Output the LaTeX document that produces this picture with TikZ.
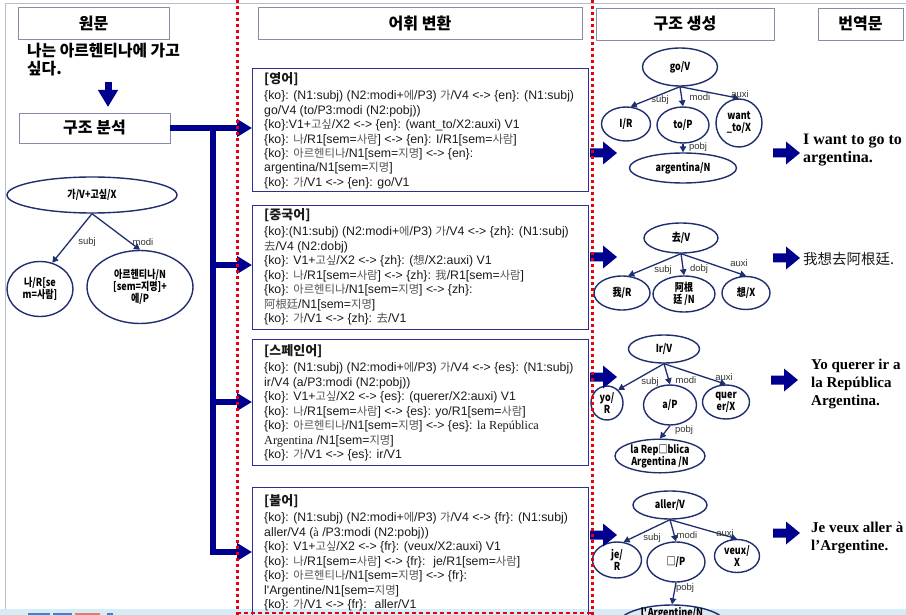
\documentclass[tikz,border=0pt]{standalone}
\usepackage{fontspec}
\usetikzlibrary{arrows.meta,shapes.geometric}
\setmainfont{Liberation Sans}
\newfontfamily\krfont[Scale=0.92]{Noto Sans CJK KR}
\newfontfamily\krhead{Noto Sans CJK KR}
\newfontfamily\treefont[FakeStretch=0.82]{Noto Sans CJK KR}
\newfontfamily\scfont{Noto Sans CJK SC}
\newfontfamily\tmsfont{Liberation Serif}
\definecolor{treeblue}{HTML}{1F2E6E}
\definecolor{boxblue}{HTML}{2F2F8F}
\definecolor{hdrline}{HTML}{8A8AA8}
\definecolor{arrowblue}{HTML}{00008F}
\definecolor{redzero}{HTML}{E8000E}
\definecolor{stripblue}{HTML}{D6ECF6}
\definecolor{framegray}{HTML}{B4C0CC}
\definecolor{krgray}{HTML}{555555}
\definecolor{txtdark}{HTML}{1A1A1A}
\definecolor{lblgray}{HTML}{333333}
\definecolor{iconblue}{HTML}{3D7FD6}
\definecolor{iconred}{HTML}{E87A6A}
\newcommand\kr[1]{{\krfont\color{krgray}#1}}
\newcommand\cb[1]{\{#1\}}
\newcommand\ktitle[1]{{\krhead\bfseries\fontsize{13}{15}\selectfont #1}}
\newcommand\blockarrow[2]{\fill[arrowblue] (#1,#2) ++(0,-4.5) -- ++(13,0) -- ++(0,-7) -- ++(14,11.5) -- ++(-14,11.5) -- ++(0,-7) -- ++(-13,0) -- cycle;}
\begin{document}
\begin{tikzpicture}[x=1pt,y=-1pt,
  hbox/.style={draw=hdrline, line width=0.9pt, inner sep=0, font=\krhead\bfseries\fontsize{16}{18}\selectfont},
  tbox/.style={draw=boxblue, line width=1.3pt, inner sep=0, anchor=north west},
  btext/.style={align=left, inner sep=0, anchor=base west, text=txtdark, font=\fontsize{12.3}{14.5}\selectfont},
  tnode/.style={ellipse, draw=treeblue, line width=1.4pt, inner sep=0, align=center, font=\treefont\bfseries\fontsize{11}{12}\selectfont},
  tarr/.style={draw=treeblue, line width=1.3pt, -{Triangle[length=6pt,width=6.5pt]}},
  lbl/.style={inner sep=0, text=lblgray, font=\fontsize{9.5}{10}\selectfont},
  trunk/.style={draw=arrowblue, line width=6pt, -{Triangle[length=15pt,width=17pt]}},
  reddot/.style={draw=redzero, line width=3pt, dash pattern=on 3pt off 3pt},
  trans/.style={align=left, inner sep=0, anchor=base west, font=\tmsfont\bfseries\fontsize{15}{18}\selectfont}
]
\useasboundingbox (0,0) rectangle (906,615);
\fill[white] (0,0) rectangle (906,615);
\fill[stripblue] (0,609) rectangle (906,615);
\fill[iconblue] (28,613) rectangle (50,615);
\fill[iconblue] (53,613) rectangle (72,615);
\fill[iconred] (75,613) rectangle (100,615);
\fill[iconblue] (107,613) rectangle (113,615);
\draw[framegray, line width=0.8pt] (5,609) -- (5,3) -- (906,3);

% headers
\node[hbox, minimum width=151pt, minimum height=32pt] (h1) at (93.5,23) {원문};
\node[hbox, minimum width=324pt, minimum height=32pt] (h2) at (420,23) {어휘 변환};
\node[hbox, minimum width=178pt, minimum height=32pt] (h3) at (685,24) {구조 생성};
\node[hbox, minimum width=85pt, minimum height=32pt] (h4) at (860.5,24) {번역문};

% source sentence and analysis
\node[align=left, inner sep=0, anchor=base west, font=\krhead\bfseries\fontsize{15.8}{18}\selectfont] (sent) at (27,75) {나는 아르헨티나에 가고\\싶다.};
\node[hbox, minimum width=151pt, minimum height=30pt] (ana) at (94.5,128) {구조 분석};
\coordinate (dtop) at (108,82);
\coordinate (dbot) at (108,107);
\draw[draw=arrowblue, line width=7pt, -{Triangle[length=17pt,width=19pt]}] (dtop) -- (dbot);

% left tree
\node[tnode, minimum width=170pt, minimum height=36pt] (lt) at (92,195) {가/V+고싶/X};
\node[tnode, minimum width=66pt, minimum height=55pt] (lc1) at (40,289) {나/R[se\\m=사람]};
\node[tnode, minimum width=106pt, minimum height=73pt] (lc2) at (140,287) {아르헨티나/N\\{}[sem=지명]+\\에/P};
\draw[tarr] (lt.south) -- (lc1.65);
\draw[tarr] (lt.south) -- (lc2.north);
\node[lbl] (ls) at (87,242) {subj};
\node[lbl] (lm) at (143,242) {modi};

% boxes
\node[tbox, minimum width=336pt, minimum height=123pt] (b1) at (252,68) {};
\node[tbox, minimum width=336pt, minimum height=124pt] (b2) at (252,205) {};
\node[tbox, minimum width=336pt, minimum height=126pt] (b3) at (252,339) {};
\node[tbox, minimum width=336pt, minimum height=140pt] (b4) at (252,487) {};

\node[btext] (t1) at (264,186.5) {\ktitle{[영어]}\\[1.5pt]
\cb{ko}: (N1:subj) (N2:modi+\kr{에}/P3) \kr{가}/V4 <-> \cb{en}: (N1:subj)\\
go/V4 (to/P3:modi (N2:pobj))\\
\cb{ko}:V1+\kr{고싶}/X2 <-> \cb{en}: (want\_to/X2:auxi) V1\\
\cb{ko}: \kr{나}/R1[sem=\kr{사람}] <-> \cb{en}: I/R1[sem=\kr{사람}]\\
\cb{ko}: \kr{아르헨티나}/N1[sem=\kr{지명}] <-> \cb{en}:\\
argentina/N1[sem=\kr{지명}]\\
\cb{ko}: \kr{가}/V1 <-> \cb{en}: go/V1};

\node[btext] (t2) at (264,322.5) {\ktitle{[중국어]}\\[1.5pt]
\cb{ko}:(N1:subj) (N2:modi+\kr{에}/P3) \kr{가}/V4 <-> \cb{zh}: (N1:subj)\\
\kr{去}/V4 (N2:dobj)\\
\cb{ko}: V1+\kr{고싶}/X2 <-> \cb{zh}: (\kr{想}/X2:auxi) V1\\
\cb{ko}: \kr{나}/R1[sem=\kr{사람}] <-> \cb{zh}: \kr{我}/R1[sem=\kr{사람}]\\
\cb{ko}: \kr{아르헨티나}/N1[sem=\kr{지명}] <-> \cb{zh}:\\
\kr{阿根廷}/N1[sem=\kr{지명}]\\
\cb{ko}: \kr{가}/V1 <-> \cb{zh}: \kr{去}/V1};

\node[btext] (t3) at (264,458.5) {\ktitle{[스페인어]}\\[1.5pt]
\cb{ko}: (N1:subj) (N2:modi+\kr{에}/P3) \kr{가}/V4 <-> \cb{es}: (N1:subj)\\
ir/V4 (a/P3:modi (N2:pobj))\\
\cb{ko}: V1+\kr{고싶}/X2 <-> \cb{es}: (querer/X2:auxi) V1\\
\cb{ko}: \kr{나}/R1[sem=\kr{사람}] <-> \cb{es}: yo/R1[sem=\kr{사람}]\\
\cb{ko}: \kr{아르헨티나}/N1[sem=\kr{지명}] <-> \cb{es}: {\tmsfont la República}\\
{\tmsfont Argentina} /N1[sem=\kr{지명}]\\
\cb{ko}: \kr{가}/V1 <-> \cb{es}: ir/V1};

\node[btext] (t4) at (264,608.5) {\ktitle{[불어]}\\[1.5pt]
\cb{ko}: (N1:subj) (N2:modi+\kr{에}/P3) \kr{가}/V4 <-> \cb{fr}: (N1:subj)\\
aller/V4 ({\tmsfont à} /P3:modi (N2:pobj))\\
\cb{ko}: V1+\kr{고싶}/X2 <-> \cb{fr}: (veux/X2:auxi) V1\\
\cb{ko}: \kr{나}/R1[sem=\kr{사람}] <-> \cb{fr}: \ je/R1[sem=\kr{사람}]\\
\cb{ko}: \kr{아르헨티나}/N1[sem=\kr{지명}] <-> \cb{fr}:\\
l\textquotesingle Argentine/N1[sem=\kr{지명}]\\
\cb{ko}: \kr{가}/V1 <-> \cb{fr}: \ aller/V1};

% trunk connectors
\coordinate (tr) at (213,128);
\coordinate (r2) at (252,265);
\coordinate (r3) at (252,402);
\coordinate (r4) at (252,552);
\draw[trunk] (ana.east) -- (ana.east -| b1.west);
\draw[trunk] (tr) |- (r4);
\draw[trunk] (tr |- r2) -- (r2);
\draw[trunk] (tr |- r3) -- (r3);

% tree 1
\node[tnode, minimum width=75pt, minimum height=38pt] (go) at (680,67) {go/V};
\node[tnode, minimum width=49pt, minimum height=34pt] (ir) at (626,124) {I/R};
\node[tnode, minimum width=52pt, minimum height=36pt] (to) at (683,125) {to/P};
\node[tnode, minimum width=46pt, minimum height=48pt] (want) at (739,123) {want\\\_to/X};
\node[tnode, minimum width=107pt, minimum height=30pt] (arg) at (683,168) {argentina/N};
\draw[tarr] (go.south) -- (ir.75);
\draw[tarr] (go.south) -- (to.north);
\draw[tarr] (go.south) -- (want.north);
\draw[tarr] (to.south) -- (arg.north);
\node[lbl] (s1) at (660,100) {subj};
\node[lbl] (m1) at (700,97) {modi};
\node[lbl] (a1) at (740,94) {auxi};
\node[lbl] (p1) at (698,147) {pobj};

% tree 2
\node[tnode, minimum width=74pt, minimum height=30pt] (qu) at (681,238) {去/V};
\node[tnode, minimum width=56pt, minimum height=34pt] (wo) at (622,293) {我/R};
\node[tnode, minimum width=62pt, minimum height=36pt] (agt) at (684,294) {阿根\\廷 /N};
\node[tnode, minimum width=48pt, minimum height=33pt] (xiang) at (746,293) {想/X};
\draw[tarr] (qu.south) -- (wo.70);
\draw[tarr] (qu.south) -- (agt.north);
\draw[tarr] (qu.south) -- (xiang.north);
\node[lbl] (s2) at (663,270) {subj};
\node[lbl] (d2) at (699,269) {dobj};
\node[lbl] (a2) at (739,263) {auxi};

% tree 3
\node[tnode, minimum width=71pt, minimum height=28pt] (irv) at (664,349) {Ir/V};
\node[tnode, minimum width=32pt, minimum height=34pt] (yo) at (607,403) {yo/\\R};
\node[tnode, minimum width=53pt, minimum height=40pt] (ap) at (670,405) {a/P};
\node[tnode, minimum width=47pt, minimum height=34pt] (quer) at (726,402) {quer\\er/X};
\node[tnode, minimum width=90pt, minimum height=33pt] (rep) at (660,456) {la Rep□blica\\Argentina /N};
\draw[tarr] (irv.south) -- (yo.50);
\draw[tarr] (irv.south) -- (ap.north);
\draw[tarr] (irv.south) -- (quer.north);
\draw[tarr] (ap.south) -- (rep.north);
\node[lbl] (s3) at (650,382) {subj};
\node[lbl] (m3) at (686,380) {modi};
\node[lbl] (a3) at (724,377) {auxi};
\node[lbl] (p3) at (684,430) {pobj};

% tree 4
\node[tnode, minimum width=74pt, minimum height=28pt] (aller) at (670,505) {aller/V};
\node[tnode, minimum width=49pt, minimum height=36pt] (je) at (617,560) {je/\\R};
\node[tnode, minimum width=58pt, minimum height=40pt] (ap4) at (676,562) {□/P};
\node[tnode, minimum width=45pt, minimum height=33pt] (veux) at (737,556) {veux/\\X};
\node[tnode, minimum width=109pt, minimum height=40pt] (larg) at (672,625) {\raisebox{9pt}[0pt][0pt]{l\textquotesingle Argentine/N}};
\draw[tarr] (aller.south) -- (je.70);
\draw[tarr] (aller.south) -- (ap4.north);
\draw[tarr] (aller.south) -- (veux.north);
\draw[tarr] (ap4.south) -- (larg.north);
\node[lbl] (s4) at (652,538) {subj};
\node[lbl] (m4) at (687,535) {modi};
\node[lbl] (a4) at (725,533) {auxi};
\node[lbl] (p4) at (685,588) {pobj};

% block arrows
\blockarrow{590}{153}
\blockarrow{590}{257}
\blockarrow{590}{377}
\blockarrow{590}{535}
\blockarrow{773}{153}
\blockarrow{773}{258}
\blockarrow{771}{380}
\blockarrow{773}{533}

% translations
\node[trans, font=\tmsfont\bfseries\fontsize{16}{18}\selectfont] (o1) at (803,163) {I want to go to\\argentina.};
\node[inner sep=0, anchor=base west, font=\scfont\fontsize{14.5}{16}\selectfont, text=txtdark] (o2) at (803,265) {我想去阿根廷.};
\node[trans] (o3) at (811,405) {Yo querer ir a\\la República\\Argentina.};
\node[trans] (o4) at (811,550) {Je veux aller à\\l’Argentine.};

% red separators
\draw[reddot] (237,0) -- (237,615);
\draw[reddot] (592,0) -- (592,615);
\draw[draw=redzero, line width=1.2pt, dash pattern=on 4pt off 3pt] (237,613) -- (592,613);
\end{tikzpicture}
\end{document}
